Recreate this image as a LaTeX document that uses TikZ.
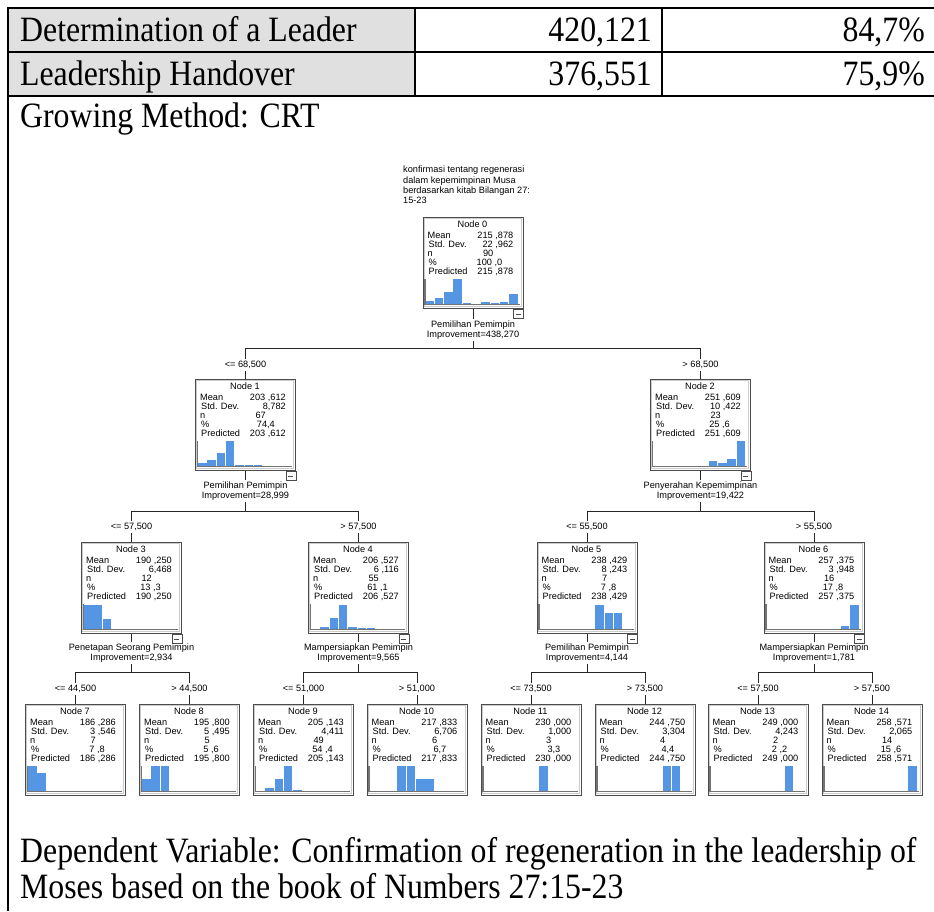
\documentclass[tikz,border=0pt]{standalone}
\usepackage{fontspec}
\setmainfont{Liberation Serif}
\newfontfamily\spssfont{Liberation Sans}
\usepackage{graphicx}
\usepackage{xcolor}
\usepackage{tikz}
\definecolor{barblue}{RGB}{84,150,228}
\definecolor{cellgray}{RGB}{224,224,224}

% taller table text, as in the scanned page
\newcommand{\tall}[1]{\scalebox{1}[1.12]{#1}}

% one box of the tree: name, centre x, top y, number, mean, sd, n, %, bars
\newcommand{\treebox}[9]{%
  \node[boxframe] (#1) at (#2,#3) {};
  \begin{scope}[shift={(#1.north west)}]
    \draw[innerline] (1.5,1.5) rectangle (98.5,89.5);
    \node[stat,anchor=base] (#1title) at (50,10.5) {Node #4};
    \node[stat,anchor=base west] (#1meanl) at (5,21.5) {Mean};
    \node[stat,anchor=base west] (#1sdl) at (6,30.5) {Std. Dev.};
    \node[stat,anchor=base west] (#1nl) at (5,39.5) {n};
    \node[stat,anchor=base west] (#1pctl) at (6,48.5) {\%};
    \node[stat,anchor=base west] (#1predl) at (6,57.5) {Predicted};
    \node[stat,anchor=base east] (#1mean) at (91,21.5) {#5};
    \node[stat,anchor=base east] (#1sd) at (91,30.5) {#6};
    \node[stat,anchor=base east] (#1n) at (71,39.5) {#7};
    \node[stat,anchor=base east] (#1pct) at (80,48.5) {#8};
    \node[stat,anchor=base east] (#1pred) at (91,57.5) {#5};
    \foreach \i/\h in {#9}
      \fill[barblue] (3+\i*9.3,87) rectangle ++(8.5,-\h);
    \draw[axisline] (2.5,62) -- (2.5,87.5) -- (97,87.5);
  \end{scope}}

\begin{document}
\begin{tikzpicture}[x=1pt,y=-1pt,
  big/.style={font=\fontsize{31.8}{36}\selectfont, inner sep=0pt},
  stat/.style={font=\spssfont\fontsize{9.2}{10.3}\selectfont, inner sep=0pt},
  split/.style={stat, align=center, inner sep=1.5pt},
  cond/.style={stat, inner sep=2pt},
  boxframe/.style={draw=black!70, line width=1pt, fill=white, anchor=north,
    minimum width=100pt, minimum height=91pt, inner sep=0pt},
  innerline/.style={draw=black!20, line width=0.6pt},
  axisline/.style={draw=black!55, line width=1.1pt},
  minusbox/.style={draw=black!70, fill=white, anchor=north east, inner sep=0pt,
    minimum width=10pt, minimum height=9pt,
    path picture={\draw[black!70] ([xshift=2.5pt]path picture bounding box.west)
      -- ([xshift=-2.5pt]path picture bounding box.east);}},
  link/.style={draw=black!85, line width=0.8pt},
  rule/.style={draw=black, line width=2pt}]
\useasboundingbox (0,0) rectangle (934,911);

% table part
\fill[cellgray] (8,8) rectangle (415,96);
\draw[rule] (8,8) -- (934,8);
\draw[rule] (8,51.5) -- (934,51.5);
\draw[rule] (8,96) -- (934,96);
\draw[rule] (8,7) -- (8,911);
\draw[rule] (415,8) -- (415,96);
\draw[rule] (662,8) -- (662,96);
\node[big,anchor=base west] (lead) at (20,41) {\tall{Determination of a Leader}};
\node[big,anchor=base east] (leadv) at (652,41) {\tall{420,121}};
\node[big,anchor=base east] (leadp) at (925,41) {\tall{84,7\%}};
\node[big,anchor=base west] (hand) at (20,85) {\tall{Leadership Handover}};
\node[big,anchor=base east] (handv) at (652,85) {\tall{376,551}};
\node[big,anchor=base east] (handp) at (925,85) {\tall{75,9\%}};
\node[big,anchor=base west] (grow) at (20,127) {\tall{Growing Method: CRT}};
\node[big,anchor=base west] (dep1) at (20,862) {\tall{Dependent Variable: Confirmation of regeneration in the leadership of}};
\node[big,anchor=base west] (dep2) at (20,898) {\tall{Moses based on the book of Numbers 27:15-23}};

% tree
\node[stat,align=left,anchor=north west] (t0) at (403,166)
  {konfirmasi tentang regenerasi\\dalam kepemimpinan Musa\\berdasarkan kitab Bilangan 27:\\15-23};
\treebox{n0}{473}{217}{0}{215 ,878}{22 ,962}{90}{100 ,0}{0/3,1/6,2/12,3/25,4/1.5,6/2,7/1,8/2,9/10}
\treebox{n1}{245.5}{379}{1}{203 ,612}{8,782}{67}{74,4}{0/3,1/6,2/13,3/25,4/1.5,5/1,6/1}
\treebox{n2}{700.5}{379}{2}{251 ,609}{10 ,422}{23}{25 ,6}{6/5,7/3,8/7,9/25}
\treebox{n3}{131.5}{542}{3}{190 ,250}{6,468}{12}{13 ,3}{0/24,1/24,2/10}
\treebox{n4}{358.5}{542}{4}{206 ,527}{6 ,116}{55}{61 ,1}{1/2,2/11,3/24,4/2,5/1,6/1}
\treebox{n5}{587}{542}{5}{238 ,429}{8 ,243}{7}{7 ,8}{6/24,7/16,8/16}
\treebox{n6}{814}{542}{6}{257 ,375}{3 ,948}{16}{17 ,8}{8/3,9/24}
\treebox{n7}{75.5}{704}{7}{186 ,286}{3 ,546}{7}{7 ,8}{0/25,1/18}
\treebox{n8}{189.5}{704}{8}{195 ,800}{5 ,495}{5}{5 ,6}{0/12,1/25,2/25}
\treebox{n9}{303.5}{704}{9}{205 ,143}{4,411}{49}{54 ,4}{1/3,2/12,3/25,4/1}
\treebox{n10}{417}{704}{10}{217 ,833}{6,706}{6}{6,7}{3/25,4/25,5/12,6/12}
\treebox{n11}{531}{704}{11}{230 ,000}{1,000}{3}{3,3}{6/25}
\treebox{n12}{645}{704}{12}{244 ,750}{3,304}{4}{4,4}{7/25,8/25}
\treebox{n13}{758}{704}{13}{249 ,000}{4,243}{2}{2 ,2}{8/25}
\treebox{n14}{872}{704}{14}{258 ,571}{2,065}{14}{15 ,6}{9/25}

\node[minusbox] (m0) at (n0.south east) {};
\node[minusbox] (m1) at (n1.south east) {};
\node[minusbox] (m2) at (n2.south east) {};
\node[minusbox] (m3) at (n3.south east) {};
\node[minusbox] (m4) at (n4.south east) {};
\node[minusbox] (m5) at (n5.south east) {};
\node[minusbox] (m6) at (n6.south east) {};

\node[split] (s0) at (473,330) {Pemilihan Pemimpin\\Improvement=438,270};
\node[split] (s1) at (245.5,491) {Pemilihan Pemimpin\\Improvement=28,999};
\node[split] (s2) at (700.5,491) {Penyerahan Kepemimpinan\\Improvement=19,422};
\node[split] (s3) at (131.5,653) {Penetapan Seorang Pemimpin\\Improvement=2,934};
\node[split] (s4) at (358.5,653) {Mampersiapkan Pemimpin\\Improvement=9,565};
\node[split] (s5) at (587,653) {Pemilihan Pemimpin\\Improvement=4,144};
\node[split] (s6) at (814,653) {Mampersiapkan Pemimpin\\Improvement=1,781};

\node[cond] (c1) at (245.5,365) {<= 68,500};
\node[cond] (c2) at (700.5,365) {> 68,500};
\node[cond] (c3) at (131.5,527) {<= 57,500};
\node[cond] (c4) at (358.5,527) {> 57,500};
\node[cond] (c5) at (587,527) {<= 55,500};
\node[cond] (c6) at (814,527) {> 55,500};
\node[cond] (c7) at (75.5,689) {<= 44,500};
\node[cond] (c8) at (189.5,689) {> 44,500};
\node[cond] (c9) at (303.5,689) {<= 51,000};
\node[cond] (c10) at (417,689) {> 51,000};
\node[cond] (c11) at (531,689) {<= 73,500};
\node[cond] (c12) at (645,689) {> 73,500};
\node[cond] (c13) at (758,689) {<= 57,500};
\node[cond] (c14) at (872,689) {> 57,500};

\coordinate (j0) at (473,348);
\coordinate (j1) at (245.5,511);
\coordinate (j2) at (700.5,511);
\coordinate (j3) at (131.5,672);
\coordinate (j4) at (358.5,672);
\coordinate (j5) at (587,672);
\coordinate (j6) at (814,672);

\draw[link] (n0.south) -- (s0.north);
\draw[link] (s0.south) -- (j0) -| (c1.north);
\draw[link] (j0) -| (c2.north);
\draw[link] (c1.south) -- (n1.north);
\draw[link] (c2.south) -- (n2.north);
\draw[link] (n1.south) -- (s1.north);
\draw[link] (s1.south) -- (j1) -| (c3.north);
\draw[link] (j1) -| (c4.north);
\draw[link] (c3.south) -- (n3.north);
\draw[link] (c4.south) -- (n4.north);
\draw[link] (n2.south) -- (s2.north);
\draw[link] (s2.south) -- (j2) -| (c5.north);
\draw[link] (j2) -| (c6.north);
\draw[link] (c5.south) -- (n5.north);
\draw[link] (c6.south) -- (n6.north);
\draw[link] (n3.south) -- (s3.north);
\draw[link] (s3.south) -- (j3) -| (c7.north);
\draw[link] (j3) -| (c8.north);
\draw[link] (c7.south) -- (n7.north);
\draw[link] (c8.south) -- (n8.north);
\draw[link] (n4.south) -- (s4.north);
\draw[link] (s4.south) -- (j4) -| (c9.north);
\draw[link] (j4) -| (c10.north);
\draw[link] (c9.south) -- (n9.north);
\draw[link] (c10.south) -- (n10.north);
\draw[link] (n5.south) -- (s5.north);
\draw[link] (s5.south) -- (j5) -| (c11.north);
\draw[link] (j5) -| (c12.north);
\draw[link] (c11.south) -- (n11.north);
\draw[link] (c12.south) -- (n12.north);
\draw[link] (n6.south) -- (s6.north);
\draw[link] (s6.south) -- (j6) -| (c13.north);
\draw[link] (j6) -| (c14.north);
\draw[link] (c13.south) -- (n13.north);
\draw[link] (c14.south) -- (n14.north);
\end{tikzpicture}
\end{document}
